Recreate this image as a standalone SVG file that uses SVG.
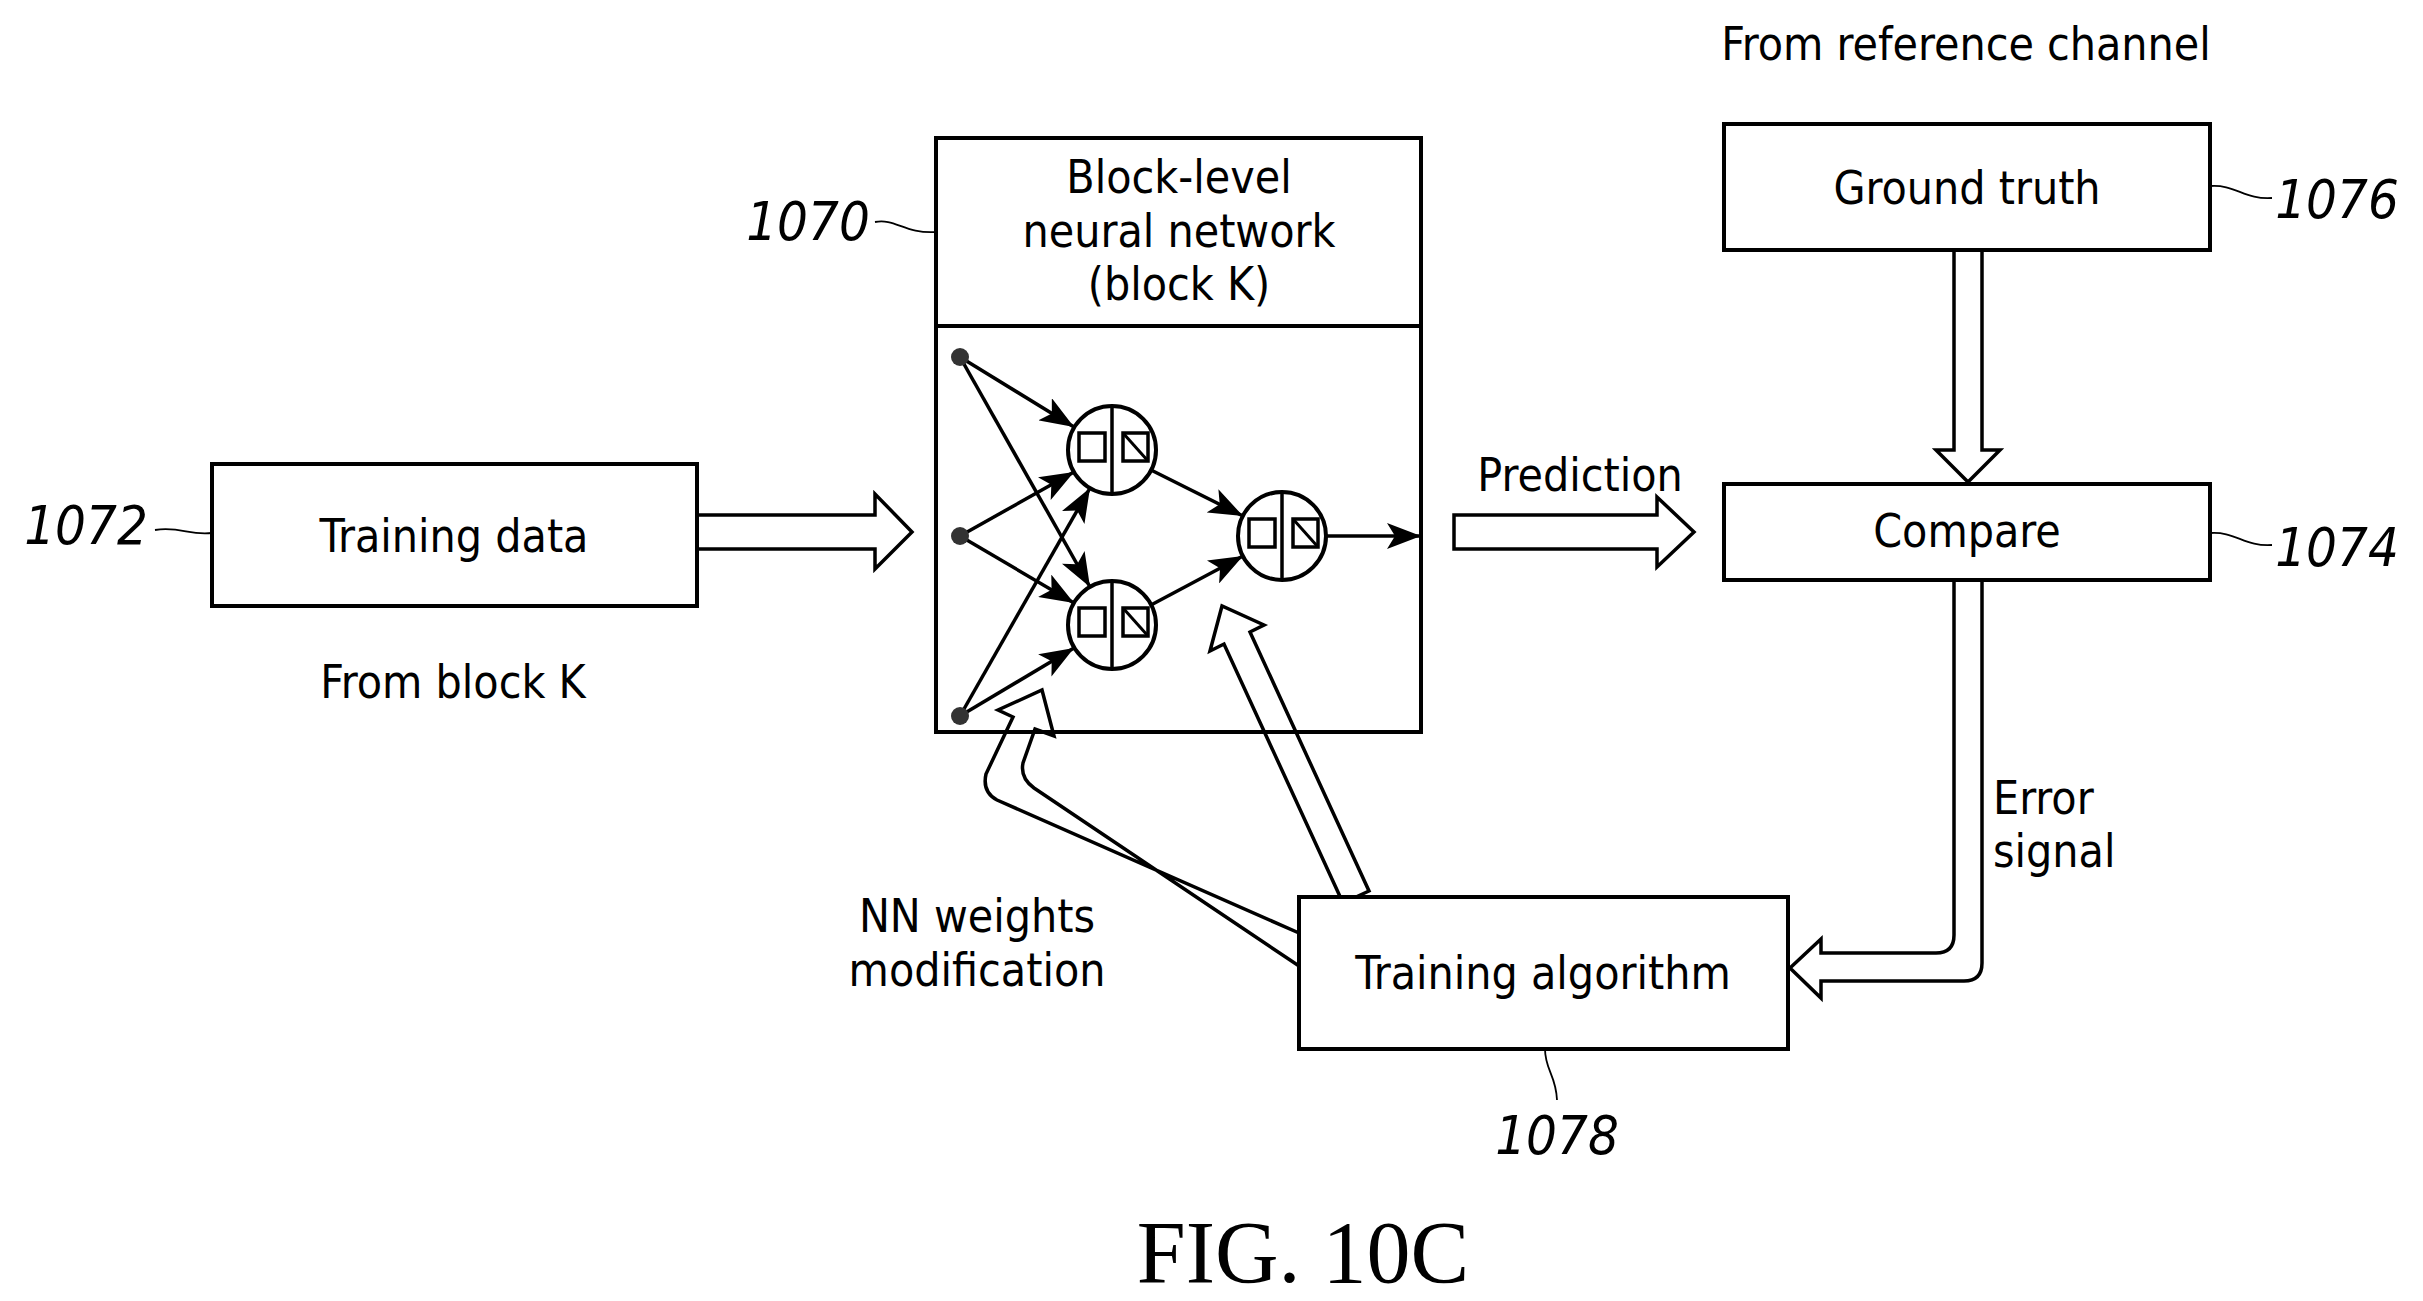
<svg xmlns="http://www.w3.org/2000/svg" width="2423" height="1301" viewBox="0 0 2423 1301">
<style>
.box{fill:#fff;stroke:#000;stroke-width:4}
.t{font-family:"DejaVu Sans Condensed","DejaVu Sans",sans-serif;font-size:46px;fill:#000;text-anchor:middle}
.ref{font-family:"DejaVu Sans Condensed","DejaVu Sans",sans-serif;font-style:italic;font-size:54px;fill:#000;text-anchor:middle}
.hol{fill:#fff;stroke:#000;stroke-width:3.5;stroke-linejoin:miter}
.ln{fill:none;stroke:#000;stroke-width:3.5}
.lead{fill:none;stroke:#000;stroke-width:1.8}
.neu{fill:#fff;stroke:#000;stroke-width:4}
.sq{fill:none;stroke:#000;stroke-width:3.5}
</style>
<defs>
<marker id="ah" markerUnits="userSpaceOnUse" markerWidth="36" markerHeight="26" refX="34" refY="13" orient="auto">
<path d="M0,0 L34,13 L0,26 L8,13 z" fill="#000"/>
</marker>
</defs>
<rect width="2423" height="1301" fill="#fff"/>

<g id="connectors">
<polygon class="hol" points="697,515 875,515 875,494 912,532 875,569 875,549 697,549"/>
<polygon class="hol" points="1454,515 1657,515 1657,497 1694,532 1657,567 1657,549 1454,549"/>
<polygon class="hol" points="1954,250 1982,250 1982,450 2000,450 1968,482 1936,450 1954,450"/>
<path class="hol" d="M1954,580 L1954,935 Q1954,953 1936,953 L1821,953 L1821,939 L1790,968 L1821,998 L1821,981 L1964,981 Q1982,981 1982,963 L1982,580 Z"/>
<polygon class="hol" points="1343,903 1224,644 1210,651 1222,606 1264,625 1250,632 1369,891"/>
<path class="hol" d="M1299,933 L997,800 Q982,792 986,774 L1013,717 L998,710 L1042,690 L1054,736 L1035,729 L1023,763 Q1020,778 1034,788 L1299,966 Z"/>
<line class="ln" x1="960" y1="357" x2="1074" y2="427" marker-end="url(#ah)"/>
<line class="ln" x1="960" y1="357" x2="1090" y2="587" marker-end="url(#ah)"/>
<line class="ln" x1="960" y1="536" x2="1074" y2="472" marker-end="url(#ah)"/>
<line class="ln" x1="960" y1="536" x2="1074" y2="603" marker-end="url(#ah)"/>
<line class="ln" x1="960" y1="716" x2="1090" y2="488" marker-end="url(#ah)"/>
<line class="ln" x1="960" y1="716" x2="1074" y2="648" marker-end="url(#ah)"/>
<line class="ln" x1="1151" y1="470" x2="1243" y2="516" marker-end="url(#ah)"/>
<line class="ln" x1="1151" y1="605" x2="1243" y2="556" marker-end="url(#ah)"/>
<line class="ln" x1="1326" y1="536" x2="1421" y2="536" marker-end="url(#ah)"/>
<path class="lead" d="M875,222 C895,218 905,234 936,232"/>
<path class="lead" d="M155,530 C180,526 190,536 212,533"/>
<path class="lead" d="M2210,186 C2235,184 2245,200 2272,198"/>
<path class="lead" d="M2210,533 C2235,531 2245,547 2272,545"/>
<path class="lead" d="M1545,1049 C1545,1070 1556,1075 1557,1100"/>
</g>

<g id="nn">
<rect class="box" x="936" y="138" width="485" height="594" fill="none" style="fill:none"/>
<line class="ln" x1="936" y1="326" x2="1421" y2="326" style="stroke-width:4"/>
<text class="t" x="1179" y="193">Block-level</text>
<text class="t" x="1179" y="247">neural network</text>
<text class="t" x="1179" y="300">(block K)</text>
<circle cx="960" cy="357" r="9" fill="#333"/>
<circle cx="960" cy="536" r="9" fill="#333"/>
<circle cx="960" cy="716" r="9" fill="#333"/>
</g>
<g id="neurons">
<g transform="translate(1112,450)">
<circle class="neu" r="44"/><line class="ln" x1="0" y1="-44" x2="0" y2="44"/>
<rect class="sq" x="-33" y="-17" width="26" height="28"/><rect class="sq" x="11" y="-17" width="25" height="28"/><line class="ln" x1="11" y1="-17" x2="36" y2="11" style="stroke-width:3"/>
</g>
<g transform="translate(1112,625)">
<circle class="neu" r="44"/><line class="ln" x1="0" y1="-44" x2="0" y2="44"/>
<rect class="sq" x="-33" y="-17" width="26" height="28"/><rect class="sq" x="11" y="-17" width="25" height="28"/><line class="ln" x1="11" y1="-17" x2="36" y2="11" style="stroke-width:3"/>
</g>
<g transform="translate(1282,536)">
<circle class="neu" r="44"/><line class="ln" x1="0" y1="-44" x2="0" y2="44"/>
<rect class="sq" x="-33" y="-17" width="26" height="28"/><rect class="sq" x="11" y="-17" width="25" height="28"/><line class="ln" x1="11" y1="-17" x2="36" y2="11" style="stroke-width:3"/>
</g>
</g>

<g id="training-data">
<rect class="box" x="212" y="464" width="485" height="142"/>
<text class="t" x="454" y="552">Training data</text>
</g>
<g id="ground-truth">
<rect class="box" x="1724" y="124" width="486" height="126"/>
<text class="t" x="1967" y="204">Ground truth</text>
</g>
<g id="compare">
<rect class="box" x="1724" y="484" width="486" height="96"/>
<text class="t" x="1967" y="547">Compare</text>
</g>
<g id="training-algorithm">
<rect class="box" x="1299" y="897" width="489" height="152"/>
<text class="t" x="1543" y="989">Training algorithm</text>
</g>

<g id="labels">
<text class="t" x="1966" y="60">From reference channel</text>
<text class="t" x="453" y="698">From block K</text>
<text class="t" x="1580" y="491">Prediction</text>
<text class="t" x="1993" y="814" style="text-anchor:start">Error</text>
<text class="t" x="1993" y="867" style="text-anchor:start">signal</text>
<text class="t" x="977" y="932">NN weights</text>
<text class="t" x="977" y="986">modification</text>
<text class="ref" x="808" y="240">1070</text>
<text class="ref" x="86" y="544">1072</text>
<text class="ref" x="2337" y="218">1076</text>
<text class="ref" x="2337" y="566">1074</text>
<text class="ref" x="1557" y="1154">1078</text>
<text x="1303" y="1282" style="font-family:'Liberation Serif',serif;font-size:88px;text-anchor:middle">FIG. 10C</text>
</g>
</svg>
